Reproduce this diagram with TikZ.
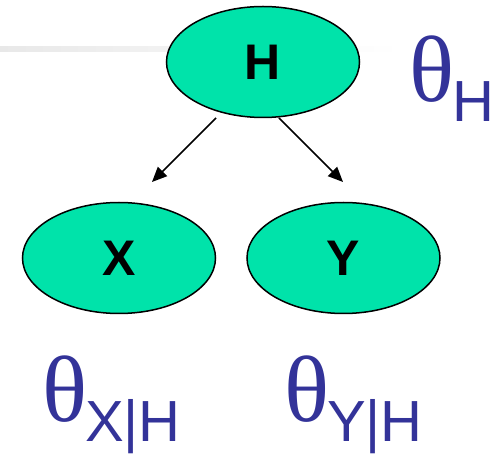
\documentclass[tikz,border=0pt]{standalone}
\usepackage{fontspec}
\setmainfont{Liberation Sans}
\newfontfamily\thetafont{Liberation Serif}
\usetikzlibrary{shapes.geometric,arrows.meta}
\definecolor{nodegreen}{HTML}{00E3AA}
\definecolor{parblue}{HTML}{333399}
\begin{document}
\begin{tikzpicture}[x=1pt,y=-1pt,
  var/.style={ellipse,draw=black,line width=1.5pt,fill=nodegreen,
    minimum width=193pt,minimum height=111pt,inner sep=0pt,
    font=\fontsize{50}{50}\selectfont\bfseries},
  edge/.style={line width=1.5pt,-{Triangle[length=15pt,width=13pt]}},
  param/.style={anchor=base west,inner sep=0pt,text=parblue}]
\useasboundingbox (0,0) rectangle (504,454);
\shade[left color=black!9,right color=white] (0,47) rectangle (400,52);
\node[var] (H) at (263,62) {H};
\node[var] (X) at (119,258) {X};
\node[var] (Y) at (343.5,258) {Y};
\coordinate (h1) at (216,118);
\coordinate (x1) at (152,182);
\coordinate (h2) at (279,118);
\coordinate (y1) at (343,182);
\draw[edge] (h1) -- (x1);
\draw[edge] (h2) -- (y1);
\node[param] (tH) at (409,102) {\fontsize{94}{94}\selectfont\thetafont θ\hspace{-2pt}\raisebox{-20pt}{\fontsize{58}{58}\selectfont\normalfont H}};
\node[param] (tX) at (42,422) {\fontsize{94}{94}\selectfont\thetafont θ\hspace{-2pt}\raisebox{-20pt}{\fontsize{58}{58}\selectfont\normalfont X|H}};
\node[param] (tY) at (284,422) {\fontsize{94}{94}\selectfont\thetafont θ\hspace{-2pt}\raisebox{-20pt}{\fontsize{58}{58}\selectfont\normalfont Y|H}};
\end{tikzpicture}
\end{document}
